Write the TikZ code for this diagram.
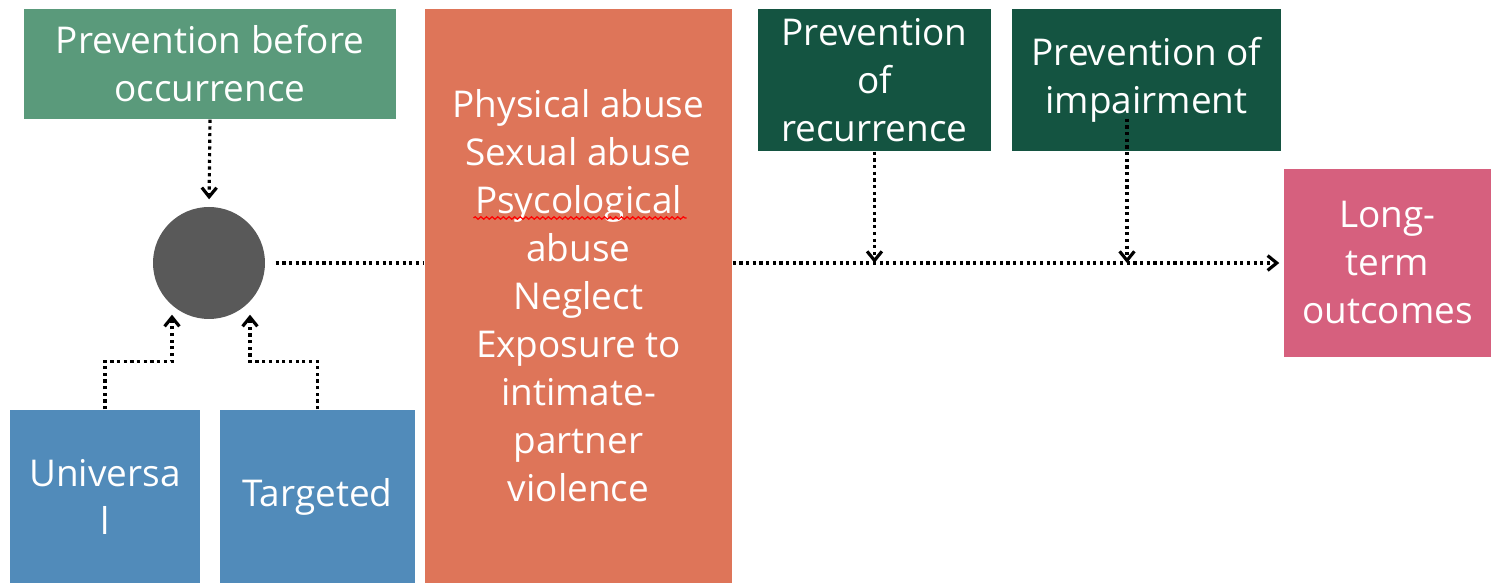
\documentclass[tikz,border=0pt]{standalone}
\usepackage{fontspec}
\setmainfont{Open Sans}
\usetikzlibrary{arrows.meta,positioning,calc,decorations.pathmorphing}
\definecolor{sage}{HTML}{5A9A7B}
\definecolor{pine}{HTML}{145441}
\definecolor{sky}{HTML}{518BBA}
\definecolor{coral}{HTML}{DE7559}
\definecolor{rose}{HTML}{D6607E}
\definecolor{slate}{HTML}{595959}
\begin{document}
\begin{tikzpicture}[x=1cm,y=1cm,
    box/.style={rectangle,inner sep=0pt,align=center,text=white,
      font=\fontsize{10.5}{13.66}\selectfont},
    flow/.style={densely dotted,line width=0.9pt,black},
    tip/.style={-{Straight Barb[length=2.6pt,width=4.2pt]}}]
    \useasboundingbox[fill=white] (0,0) rectangle (14.91,5.83);
    \node[box,fill=sage,minimum width=3.72cm,minimum height=1.10cm] (before) at (2.10,5.19)
      {Prevention before\\occurrence};
    \node[circle,fill=slate,minimum size=1.12cm,inner sep=0pt] (hub) at (2.09,3.20) {};
    \node[box,fill=sky,minimum width=1.90cm,minimum height=1.73cm] (univ) at (1.05,0.865)
      {Universa\\l};
    \node[box,fill=sky,minimum width=1.95cm,minimum height=1.73cm] (targ) at (3.175,0.865)
      {Targeted};
    \node[box,fill=coral,minimum width=3.07cm,minimum height=5.74cm] (abuse) at (5.785,2.87)
      {Physical abuse\\Sexual abuse\\Psycological\\abuse\\Neglect\\Exposure to\\intimate-\\partner\\violence};
    \node[box,fill=pine,minimum width=2.33cm,minimum height=1.42cm] (recur) at (8.745,5.03)
      {Prevention\\of\\recurrence};
    \node[box,fill=pine,minimum width=2.69cm,minimum height=1.42cm] (impair) at (11.465,5.03)
      {Prevention of\\impairment};
    \node[box,fill=rose,minimum width=2.07cm,minimum height=1.88cm] (longterm) at (13.875,3.20)
      {Long-\\term\\outcomes};
    \draw[red,line width=0.35pt,decorate,decoration={snake,amplitude=0.35pt,segment length=1.6pt}]
      ($(abuse.center)+(-1.05,0.78)$) -- ($(abuse.center)+(1.08,0.78)$);
    \coordinate (impsrc) at ($(impair.south)+(-0.195,0.33)$);
    \coordinate (hitA) at (recur.south |- hub);
    \coordinate (hitB) at (impsrc |- hub);
    \draw[flow,tip,shorten >=0.07cm] (before.south) -- (hub.north);
    \draw[flow,shorten <=0.1cm] (hub.east) -- (abuse.west |- hub);
    \draw[flow,tip,shorten >=0.04cm] (abuse.east |- hub) -- (longterm.west |- hub);
    \draw[flow,tip] (recur.south) -- (hitA);
    \draw[flow,tip] (impsrc) -- (hitB);
    \draw[flow,tip] (univ.north) -- ++(0,0.48) -| ($(hub.south)+(-0.37,0.05)$);
    \draw[flow,tip] (targ.north) -- ++(0,0.48) -| ($(hub.south)+(0.41,0.05)$);
\end{tikzpicture}
\end{document}
